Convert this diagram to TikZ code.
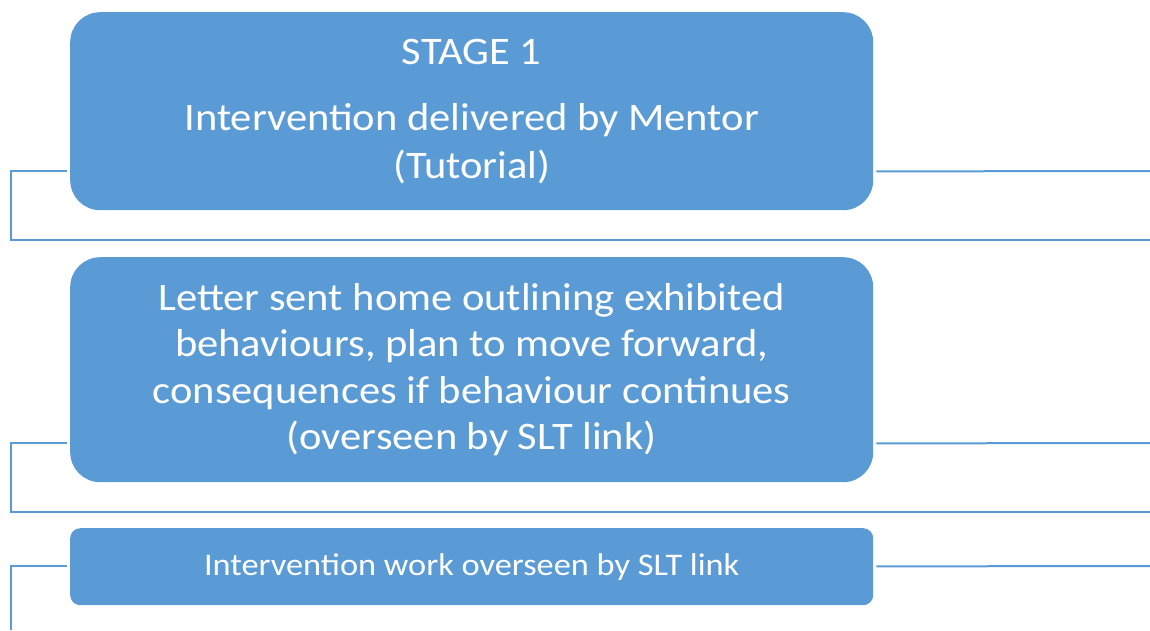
\documentclass[tikz,border=0pt]{standalone}
\usepackage{fontspec}
\setmainfont{Carlito}[FakeStretch=1.09]
\usetikzlibrary{calc}
\definecolor{boxblue}{HTML}{5B9BD5}
\begin{document}
\begin{tikzpicture}[x=1pt,y=-1pt,
  stagebox/.style={fill=boxblue, draw=none, anchor=north west, inner sep=0pt,
    text=white, align=center, minimum width=803pt},
  link/.style={draw=boxblue, line width=2pt}]
\useasboundingbox (0,0) rectangle (1150,630);
\node[stagebox, rounded corners=30pt, minimum height=198pt,
  font=\fontsize{39}{48}\selectfont] (b1) at (70,12)
  {STAGE 1\\[18pt]Intervention delivered by Mentor\\(Tutorial)};
\node[stagebox, rounded corners=30pt, minimum height=225pt,
  font=\fontsize{39}{46.5}\selectfont] (b2) at (70,257)
  {Letter sent home outlining exhibited\\behaviours, plan to move forward,\\consequences if behaviour continues\\(overseen by SLT link)};
\node[stagebox, rounded corners=10pt, minimum height=77pt,
  font=\fontsize{31.5}{38}\selectfont] (b3) at (70,528)
  {Intervention work overseen by SLT link};
\draw[link] ($(b1.south west)+(-3,-39)$) -| (11,240) -- (1150,240);
\draw[link] ($(b1.south east)+(3,-39)$) -- (1150,171);
\draw[link] ($(b2.south west)+(-3,-39)$) -| (11,512) -- (1150,512);
\draw[link] ($(b2.south east)+(3,-39)$) -- (1150,443);
\draw[link] ($(b3.south west)+(-3,-39)$) -| (11,630);
\draw[link] ($(b3.south east)+(3,-39)$) -- (1150,566);
\end{tikzpicture}
\end{document}
